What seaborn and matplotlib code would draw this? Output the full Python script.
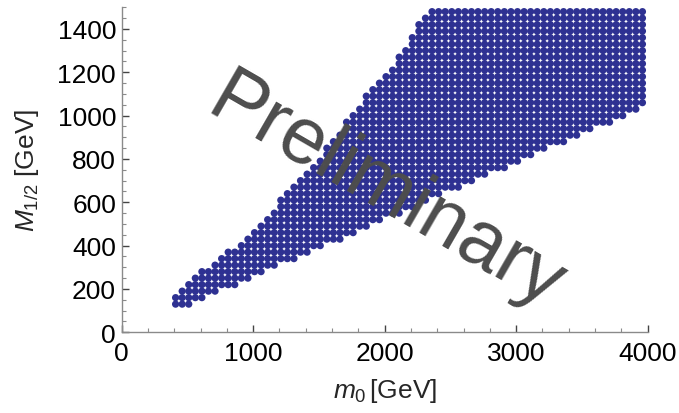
import numpy as np
import pandas as pd
import matplotlib
matplotlib.use("Agg")
import matplotlib.pyplot as plt
import seaborn as sns

# ---- data: grid rows (M_1/2) and x-extent per row (m0) ----
row_m12 = [130, 160, 190, 220, 250, 280, 310, 340, 370, 400, 430, 460,
           490, 520, 550, 580, 610, 640, 670, 700, 730, 760,
           790, 820, 850, 880, 910, 940, 970, 1000, 1030, 1060, 1090, 1120, 1150,
           1180, 1210, 1240, 1270, 1300, 1330, 1360, 1390, 1420, 1450, 1480]
row_m0_min = [410, 410, 460, 510, 560, 610, 710, 760, 810, 910, 960, 1010,
              1060, 1110, 1160, 1210, 1210, 1260, 1310, 1360, 1410, 1460,
              1510, 1560, 1560, 1610, 1660, 1710, 1710, 1760, 1810, 1860, 1860, 1910, 1960,
              2010, 2060, 2110, 2110, 2160, 2210, 2210, 2260, 2260, 2310, 2360]
row_m0_max = [510, 610, 710, 860, 960, 1060, 1160, 1310, 1410, 1510, 1660, 1760,
              1860, 1960, 2110, 2210, 2310, 2410, 2560, 2660, 2760, 2910,
              3010, 3110, 3210, 3360, 3460, 3560, 3710, 3810, 3910, 3960, 3960, 3960, 3960,
              3960, 3960, 3960, 3960, 3960, 3960, 3960, 3960, 3960, 3960, 3960]
m0_step = 50

x_ticks = [0, 1000, 2000, 3000, 4000]
y_ticks = [0, 200, 400, 600, 800, 1000, 1200, 1400]

xs, ys = [], []
for y, a, b in zip(row_m12, row_m0_min, row_m0_max):
    cols = np.arange(a, b + 1, m0_step)
    xs.extend(cols.tolist())
    ys.extend([y] * len(cols))
df = pd.DataFrame({"m0": xs, "M12": ys})

sns.set_style("ticks")
plt.rcParams["font.family"] = ["Liberation Sans", "DejaVu Sans"]
plt.rcParams["mathtext.fontset"] = "custom"
plt.rcParams["mathtext.rm"] = "Liberation Sans"
plt.rcParams["mathtext.it"] = "Liberation Sans:italic"

fig = plt.figure(figsize=(6.79, 4.14), dpi=100)
ax = fig.add_axes([0.1792, 0.1949, 0.7747, 0.785])

sns.scatterplot(data=df, x="m0", y="M12", ax=ax, color="#2E3192",
                s=27, edgecolor="none", linewidth=0, legend=False)

ax.set_xlim(0, 4000)
ax.set_ylim(0, 1500)
ax.set_xticks(x_ticks)
ax.set_yticks(y_ticks)
ax.set_xticks(np.arange(0, 4001, 200), minor=True)
ax.set_yticks(np.arange(0, 1501, 50), minor=True)

for s in ["top", "right"]:
    ax.spines[s].set_visible(False)
for s in ["left", "bottom"]:
    ax.spines[s].set_color("#8a8a8a")
    ax.spines[s].set_linewidth(1.0)

ax.tick_params(axis="both", which="major", direction="in", length=5, width=1.0,
               color="#444444", labelsize=19, labelcolor="black")
ax.tick_params(axis="both", which="minor", direction="in", length=3, width=0.8,
               color="#8a8a8a")
ax.tick_params(axis="x", which="major", pad=6)
ax.tick_params(axis="y", which="major", pad=4)

ax.set_xlabel(r"$m_0\,$[GeV]", fontsize=19, labelpad=8)
ax.set_ylabel(r"$M_{1/2}$ [GeV]", fontsize=19, labelpad=12)

fig.text(386 / 679, 1 - 194 / 414, "Preliminary", fontsize=57, color="#4d4d4d",
         rotation=-30, ha="center", va="center", rotation_mode="anchor")

fig.savefig("out.png", dpi=100)
